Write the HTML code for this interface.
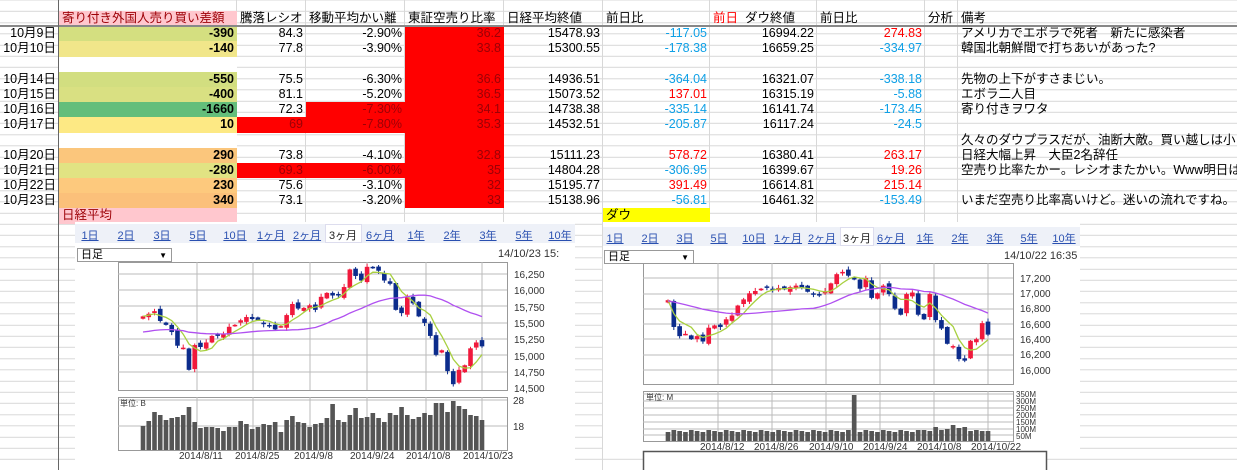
<!DOCTYPE html>
<html><head><meta charset="utf-8">
<style>
*{margin:0;padding:0;box-sizing:border-box}
body{width:1237px;height:470px;overflow:hidden;background:#fff;position:relative;font-family:"Liberation Sans","Noto Sans CJK JP",sans-serif;font-size:13px;color:#000}
#bg{position:absolute;left:0;top:0;width:1237px;height:470px;background:repeating-linear-gradient(to bottom,transparent 0,transparent 10.2px,#d8d8d8 10.2px,#d8d8d8 11.2px);background-position:0 0.8px}
.v{position:absolute;top:0;height:470px;width:1px;background:#d8d8d8}
#grid{position:absolute;left:0;top:11px;display:grid;grid-template-columns:59px 178px 69px 99px 99px 99px 107px 107px 108px 33px 279px;grid-template-rows:repeat(14,15.2px)}
#grid div{white-space:nowrap;overflow:visible;line-height:15px;padding:0 3px;font-size:12.5px}
.r{text-align:right}
.pk{background:#ffc7ce;color:#9c0006}
.rd{background:#ff0000;color:#9c0006}
.b{font-weight:bold;text-align:right}
.bl{color:#0fa0e6;text-align:right}
.re{color:#f00;text-align:right}
#hline{position:absolute;left:0;top:25px;width:1237px;height:2px;background:#888}
#vline{position:absolute;left:58px;top:0;width:1px;height:470px;background:#666}
.chart{position:absolute;background:#fff}
.tabs{position:absolute;background:#eef1f8;height:19px}
.tab{position:absolute;top:3px;font-size:11px;color:#2a50b0;text-decoration:underline;transform:translateX(-50%);white-space:nowrap}
.sel{position:absolute;top:0;height:19px;background:#fff;border:1px solid #dde}
.dd{position:absolute;border:1px solid #999;background:#fff;font-size:11px;padding-left:3px;line-height:13px}
</style></head><body>
<div id="bg"></div>
<div class="v" style="left:236px"></div><div class="v" style="left:305px"></div><div class="v" style="left:404px"></div><div class="v" style="left:503px"></div><div class="v" style="left:602px"></div><div class="v" style="left:709px"></div><div class="v" style="left:816px"></div><div class="v" style="left:924px"></div><div class="v" style="left:957px"></div>
<div id="grid">
<div></div><div class="pk">寄り付き外国人売り買い差額</div><div>騰落レシオ</div><div>移動平均かい離</div><div>東証空売り比率</div><div>日経平均終値</div><div>前日比</div><div><span style="color:#f00">前日</span>&nbsp;&nbsp;ダウ終値</div><div>前日比</div><div>分析</div><div>備考</div>
<div class="r">10月9日</div><div class="b" style="background:#d4df80">-390</div><div class="r">84.3</div><div class="r">-2.90%</div><div class="r rd">36.2</div><div class="r">15478.93</div><div class="bl">-117.05</div><div class="r">16994.22</div><div class="re">274.83</div><div></div><div>アメリカでエボラで死者　新たに感染者</div>
<div class="r">10月10日</div><div class="b" style="background:#f1e68a">-140</div><div class="r">77.8</div><div class="r">-3.90%</div><div class="r rd">33.8</div><div class="r">15300.55</div><div class="bl">-178.38</div><div class="r">16659.25</div><div class="bl">-334.97</div><div></div><div>韓国北朝鮮間で打ちあいがあった?</div>
<div></div><div style="background:#fff"></div><div></div><div></div><div class="rd"></div><div></div><div></div><div></div><div></div><div></div><div></div>
<div class="r">10月14日</div><div class="b" style="background:#d2de80">-550</div><div class="r">75.5</div><div class="r">-6.30%</div><div class="r rd">36.6</div><div class="r">14936.51</div><div class="bl">-364.04</div><div class="r">16321.07</div><div class="bl">-338.18</div><div></div><div>先物の上下がすさまじい。</div>
<div class="r">10月15日</div><div class="b" style="background:#d9e082">-400</div><div class="r">81.1</div><div class="r">-5.20%</div><div class="r rd">36.5</div><div class="r">15073.52</div><div class="re">137.01</div><div class="r">16315.19</div><div class="bl">-5.88</div><div></div><div>エボラ二人目</div>
<div class="r">10月16日</div><div class="b" style="background:#63be7b">-1660</div><div class="r">72.3</div><div class="r rd">-7.30%</div><div class="r rd">34.1</div><div class="r">14738.38</div><div class="bl">-335.14</div><div class="r">16141.74</div><div class="bl">-173.45</div><div></div><div>寄り付きヲワタ</div>
<div class="r">10月17日</div><div class="b" style="background:#fde984">10</div><div class="r rd">69</div><div class="r rd">-7.80%</div><div class="r rd">35.3</div><div class="r">14532.51</div><div class="bl">-205.87</div><div class="r">16117.24</div><div class="bl">-24.5</div><div></div><div></div>
<div></div><div style="background:#fff"></div><div></div><div></div><div class="rd"></div><div></div><div></div><div></div><div></div><div></div><div>久々のダウプラスだが、油断大敵。買い越しは小さい。</div>
<div class="r">10月20日</div><div class="b" style="background:#fbc67c">290</div><div class="r">73.8</div><div class="r">-4.10%</div><div class="r rd">32.8</div><div class="r">15111.23</div><div class="re">578.72</div><div class="r">16380.41</div><div class="re">263.17</div><div></div><div>日経大幅上昇　大臣2名辞任</div>
<div class="r">10月21日</div><div class="b" style="background:#e1e383">-280</div><div class="r rd">69.3</div><div class="r rd">-6.00%</div><div class="r rd">35</div><div class="r">14804.28</div><div class="bl">-306.95</div><div class="r">16399.67</div><div class="re">19.26</div><div></div><div>空売り比率たかー。レシオまたかい。Www明日はあげて</div>
<div class="r">10月22日</div><div class="b" style="background:#fdc97d">230</div><div class="r">75.6</div><div class="r">-3.10%</div><div class="r rd">32</div><div class="r">15195.77</div><div class="re">391.49</div><div class="r">16614.81</div><div class="re">215.14</div><div></div><div></div>
<div class="r">10月23日</div><div class="b" style="background:#fbc07a">340</div><div class="r">73.1</div><div class="r">-3.20%</div><div class="r rd">33</div><div class="r">15138.96</div><div class="bl">-56.81</div><div class="r">16461.32</div><div class="bl">-153.49</div><div></div><div>いまだ空売り比率高いけど。迷いの流れですね。</div>
<div></div><div class="pk">日経平均</div><div></div><div></div><div></div><div></div><div style="background:#ff0">ダウ</div><div></div><div></div><div></div><div></div>
</div>
<div id="hline"></div><div id="vline"></div>

<div class="chart" style="left:75px;top:222px;width:500px;height:248px">
 <div class="tabs" style="left:0;top:2px;width:500px">
  <div class="sel" style="left:250px;width:37px"></div>
  <span class="tab" style="left:15px">1日</span><span class="tab" style="left:51px">2日</span><span class="tab" style="left:87px">3日</span><span class="tab" style="left:123px">5日</span><span class="tab" style="left:160px">10日</span><span class="tab" style="left:196px">1ヶ月</span><span class="tab" style="left:232px">2ヶ月</span><span class="tab" style="left:268px;color:#222;text-decoration:none">3ヶ月</span><span class="tab" style="left:305px">6ヶ月</span><span class="tab" style="left:341px">1年</span><span class="tab" style="left:377px">2年</span><span class="tab" style="left:413px">3年</span><span class="tab" style="left:449px">5年</span><span class="tab" style="left:485px">10年</span>
 </div>
 <div class="dd" style="left:2px;top:26px;width:95px;height:14px">日足<span style="position:absolute;right:4px;font-size:8px">▼</span></div>
 <div style="position:absolute;left:423px;top:26px;font-size:11px;color:#333;white-space:nowrap">14/10/23 15:</div>
</div>
<div class="chart" style="left:603px;top:222px;width:477px;height:234px;overflow:hidden">
 <div class="tabs" style="left:0;top:5px;width:477px">
  <div class="sel" style="left:237px;width:34px"></div>
  <span class="tab" style="left:12px">1日</span><span class="tab" style="left:47px">2日</span><span class="tab" style="left:82px">3日</span><span class="tab" style="left:116px">5日</span><span class="tab" style="left:151px">10日</span><span class="tab" style="left:185px">1ヶ月</span><span class="tab" style="left:219px">2ヶ月</span><span class="tab" style="left:254px;color:#222;text-decoration:none">3ヶ月</span><span class="tab" style="left:288px">6ヶ月</span><span class="tab" style="left:322px">1年</span><span class="tab" style="left:357px">2年</span><span class="tab" style="left:392px">3年</span><span class="tab" style="left:426px">5年</span><span class="tab" style="left:461px">10年</span>
 </div>
 <div class="dd" style="left:1px;top:28px;width:90px;height:14px">日足<span style="position:absolute;right:4px;font-size:8px">▼</span></div>
 <div style="position:absolute;left:401px;top:28px;font-size:11px;color:#333;white-space:nowrap">14/10/22 16:35 ES</div>
</div>

<svg id="sv" width="1237" height="470" style="position:absolute;left:0;top:0" font-family="Liberation Sans,sans-serif">
 <g id="gl"></g>
 <g font-size="10" fill="#333">
  <text x="514" y="278">16,250</text><text x="514" y="294">16,000</text><text x="514" y="311">15,750</text><text x="514" y="327">15,500</text><text x="514" y="343">15,250</text><text x="514" y="360">15,000</text><text x="514" y="376">14,750</text><text x="514" y="392">14,500</text>
  <text x="513" y="404">28</text><text x="513" y="430">18</text>
  <text x="120" y="406" font-size="8">単位: B</text>
  <text x="179" y="459">2014/8/11</text><text x="235" y="459">2014/8/25</text><text x="294" y="459">2014/9/8</text><text x="350" y="459">2014/9/24</text><text x="406" y="459">2014/10/8</text><text x="463" y="459">2014/10/23</text>
  <text x="1020" y="282">17,200</text><text x="1020" y="297">17,000</text><text x="1020" y="312">16,800</text><text x="1020" y="328">16,600</text><text x="1020" y="343">16,400</text><text x="1020" y="358">16,200</text><text x="1020" y="374">16,000</text>
  <g font-size="8"><text x="1016" y="397">350M</text><text x="1016" y="404">300M</text><text x="1016" y="411">250M</text><text x="1016" y="418">200M</text><text x="1016" y="425">150M</text><text x="1016" y="432">100M</text><text x="1016" y="439">50M</text>
  <text x="646" y="400">単位: M</text></g>
  <text x="700" y="450">2014/8/12</text><text x="754" y="450">2014/8/26</text><text x="809" y="450">2014/9/10</text><text x="863" y="450">2014/9/24</text><text x="917" y="450">2014/10/8</text><text x="971" y="450">2014/10/22</text>
 </g>
 <rect x="643.5" y="451.5" width="403" height="20" fill="#fff" stroke="#555" stroke-width="1.5"/>
</svg>
<script>
var g=document.getElementById('gl'),NS='http://www.w3.org/2000/svg';
function el(t,a){var e=document.createElementNS(NS,t);for(var k in a)e.setAttribute(k,a[k]);g.appendChild(e);return e}
function chart(o){
 el('rect',{x:o.bx0+.5,y:o.by0+.5,width:o.bx1-o.bx0,height:o.by1-o.by0,fill:'#fff',stroke:'#999'});
 el('rect',{x:o.bx0+.5,y:o.vy0+.5,width:o.bx1-o.bx0,height:o.vy1-o.vy0,fill:'#fff',stroke:'#999'});
 o.hl.forEach(function(y){el('line',{x1:o.bx0,x2:o.bx1,y1:y,y2:y,stroke:'#bbb'})});
 o.vhl.forEach(function(y){el('line',{x1:o.bx0,x2:o.bx1,y1:y,y2:y,stroke:'#bbb'})});
 o.vl.forEach(function(x){el('line',{x1:x,x2:x,y1:o.by0,y2:o.by1,stroke:'#bbb'});el('line',{x1:x,x2:x,y1:o.vy0,y2:o.vy1,stroke:'#bbb'})});
 var c=o.c,n=c.length,dx=(o.x1-o.x0)/(n-1),w=Math.max(3,dx*0.8);
 for(var i=0;i<n;i++){
  var x=o.x0+i*dx,op=i?c[i-1]+((i*37)%7-3)*o.gap:c[0]-o.gap*3,cl=c[i];
  var hi=Math.max(op,cl)+o.gap*(1+(i*13)%4),lo=Math.min(op,cl)-o.gap*(1+(i*7)%4);
  var col=cl>=op?'#f0193c':'#0c2c8c';
  el('line',{x1:x,x2:x,y1:o.y(hi),y2:o.y(lo),stroke:col});
  var t=o.y(Math.max(op,cl)),b=o.y(Math.min(op,cl));
  el('rect',{x:x-w/2,y:t,width:w,height:Math.max(1.5,b-t),fill:col});
  var vh=o.v[i%o.v.length];
  el('rect',{x:x-w/2,y:o.vy1-vh,width:w,height:vh,fill:'#555'});
 }
 function ma(p,stroke){var d='';for(var i=0;i<n;i++){var s=0,k=0;for(var j=Math.max(0,i-p+1);j<=i;j++){s+=c[j];k++}
  var v=s/k;if(p>5)v=v*(k/p)+(o.pre)*(1-k/p);d+=(i?'L':'M')+(o.x0+i*dx).toFixed(1)+' '+o.y(v).toFixed(1)}
  el('path',{d:d,fill:'none',stroke:stroke,'stroke-width':1.3})}
 ma(5,'#a8d040');ma(25,'#b050f0');
}
var nk=[15600,15640,15680,15530,15470,15360,15150,15120,14780,15160,15130,15200,15300,15310,15330,15440,15470,15540,15590,15560,15540,15480,15460,15400,15450,15620,15790,15720,15730,15770,15700,15900,15960,15920,15920,16050,16320,16220,16150,16360,16340,16300,16150,16100,15700,15650,15900,15800,15600,15500,15300,15010,15080,14760,14560,14780,14850,15110,15200,15140];
var nv=[24,29,38,35,30,32,33,35,43,28,22,23,23,22,19,23,23,29,26,21,23,26,25,28,18,30,34,28,27,23,26,27,32,46,30,28,35,42,32,33,37,32,28,37,35,43,35,31,33,37,35,47,47,38,49,44,41,35,34,30];
chart({bx0:118,bx1:507,by0:262,by1:390,vy0:397,vy1:450,x0:143,x1:482,c:nk,gap:12,pre:15350,
 y:function(p){return 274+(16250-p)/250*16.3},
 hl:[274,290,306,323,339,355,372],vhl:[400,426],vl:[197,253,310,367,426,482],v:nv});
var dw=[16910,16560,16440,16470,16400,16440,16370,16550,16580,16560,16660,16710,16840,16920,17000,17030,17060,17080,17040,17070,17050,17080,17100,17070,17020,16990,16980,17030,17130,17250,17280,17230,17180,17060,17200,16940,17000,17100,16990,16800,16720,16990,17010,16720,16660,16990,16650,16540,16340,16310,16140,16120,16380,16400,16610,16460];
var dv=[];for(var i=0;i<dw.length;i++)dv.push(9+(i*5)%3);dv[32]=46;[44,45,46,47,48,49,50,51,52,53,54,55].forEach(function(i,k){dv[i]=[11,10,14,11,12,16,13,14,10,11,10,10][k]});
chart({bx0:643,bx1:1013,by0:263,by1:384,vy0:391,vy1:441,x0:668,x1:988,c:dw,gap:10,pre:16900,
 y:function(p){return 278+(17200-p)/200*15.3},
 hl:[278,294,309,324,339,355,370],vhl:[394,401,408,415,422,429,435],vl:[718,772,826,880,934,988],v:dv});
</script>
</body></html>
